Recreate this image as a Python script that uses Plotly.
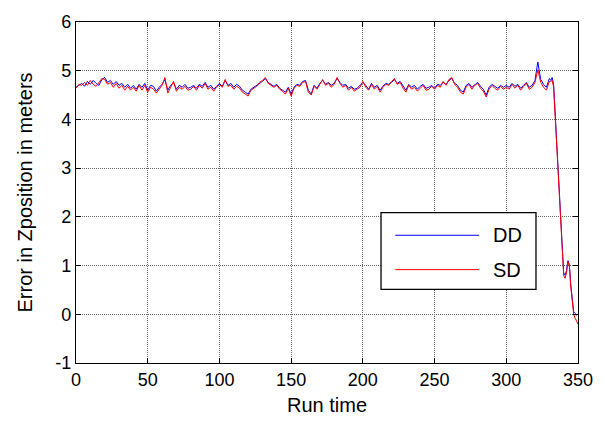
import numpy as np
import plotly.graph_objects as go

# Run time samples: every 2 units up to 330, then finer through the final drop
t_main = list(range(0, 331, 2))
t_tail = [331, 332, 333, 335, 337, 339, 340, 341, 342, 343, 344, 345, 346, 347, 348, 349, 350]
run_time = t_main + t_tail

dd_main = [
    4.66, 4.70, 4.74, 4.68, 4.78, 4.72, 4.80, 4.74, 4.70, 4.82,
    4.86, 4.76, 4.80, 4.72, 4.78, 4.70, 4.74, 4.66, 4.72, 4.64,
    4.70, 4.62, 4.72, 4.66, 4.74, 4.60, 4.70, 4.68, 4.58, 4.66,
    4.72, 4.82, 4.60, 4.70, 4.76, 4.62, 4.70, 4.66, 4.72, 4.64,
    4.66, 4.70, 4.64, 4.72, 4.68, 4.76, 4.66, 4.70, 4.62, 4.68,
    4.74, 4.68, 4.80, 4.70, 4.74, 4.66, 4.72, 4.68, 4.60, 4.56,
    4.52, 4.62, 4.66, 4.70, 4.74, 4.78, 4.84, 4.76, 4.72, 4.68,
    4.72, 4.64, 4.60, 4.56, 4.66, 4.52, 4.66, 4.72, 4.70, 4.78,
    4.80, 4.60, 4.52, 4.70, 4.64, 4.74, 4.80, 4.72, 4.76, 4.70,
    4.74, 4.84, 4.76, 4.70, 4.72, 4.64, 4.68, 4.62, 4.64, 4.70,
    4.76, 4.70, 4.62, 4.74, 4.66, 4.70, 4.60, 4.68, 4.74, 4.72,
    4.76, 4.82, 4.74, 4.78, 4.68, 4.60, 4.72, 4.66, 4.70, 4.62,
    4.68, 4.72, 4.64, 4.66, 4.70, 4.64, 4.72, 4.70, 4.76, 4.72,
    4.80, 4.84, 4.74, 4.70, 4.60, 4.56, 4.70, 4.74, 4.66, 4.72,
    4.76, 4.68, 4.62, 4.50, 4.66, 4.72, 4.68, 4.64, 4.70, 4.66,
    4.70, 4.66, 4.74, 4.68, 4.72, 4.64, 4.70, 4.76, 4.66, 4.70,
    4.80, 5.18, 4.82, 4.72, 4.66, 4.84,
]
dd_tail = [4.80, 4.86, 4.72, 3.60, 2.40, 1.20, 0.85, 0.80, 0.90, 1.10,
           1.02, 0.60, 0.25, 0.05, 0.02, -0.02, 0.00]

sd_main = [
    4.64, 4.72, 4.70, 4.76, 4.70, 4.80, 4.72, 4.68, 4.76, 4.84,
    4.82, 4.72, 4.76, 4.66, 4.74, 4.64, 4.70, 4.60, 4.68, 4.60,
    4.66, 4.58, 4.70, 4.60, 4.70, 4.56, 4.66, 4.62, 4.54, 4.62,
    4.70, 4.86, 4.54, 4.66, 4.78, 4.58, 4.66, 4.62, 4.68, 4.60,
    4.62, 4.68, 4.60, 4.70, 4.64, 4.74, 4.62, 4.66, 4.58, 4.66,
    4.72, 4.66, 4.82, 4.68, 4.70, 4.62, 4.68, 4.64, 4.56, 4.52,
    4.48, 4.60, 4.64, 4.68, 4.76, 4.80, 4.86, 4.74, 4.70, 4.66,
    4.70, 4.62, 4.58, 4.52, 4.64, 4.48, 4.64, 4.70, 4.68, 4.76,
    4.78, 4.56, 4.50, 4.68, 4.62, 4.72, 4.82, 4.70, 4.74, 4.66,
    4.72, 4.86, 4.74, 4.66, 4.70, 4.60, 4.66, 4.58, 4.62, 4.66,
    4.78, 4.66, 4.60, 4.72, 4.62, 4.68, 4.56, 4.66, 4.72, 4.70,
    4.78, 4.84, 4.72, 4.76, 4.64, 4.56, 4.70, 4.62, 4.66, 4.58,
    4.64, 4.70, 4.60, 4.62, 4.68, 4.62, 4.70, 4.66, 4.78, 4.70,
    4.82, 4.86, 4.72, 4.66, 4.56, 4.52, 4.66, 4.72, 4.62, 4.70,
    4.74, 4.64, 4.58, 4.46, 4.62, 4.70, 4.64, 4.60, 4.68, 4.62,
    4.66, 4.62, 4.72, 4.64, 4.70, 4.60, 4.68, 4.74, 4.62, 4.66,
    4.76, 5.02, 4.76, 4.66, 4.60, 4.78,
]
sd_tail = [4.78, 4.80, 4.66, 3.55, 2.35, 1.15, 0.80, 0.74, 0.85, 1.08,
           0.98, 0.55, 0.20, 0.00, -0.08, -0.15, -0.20]

dd = dd_main + dd_tail
sd = sd_main + sd_tail

x_ticks = [0, 50, 100, 150, 200, 250, 300, 350]
y_ticks = [-1, 0, 1, 2, 3, 4, 5, 6]
y_tick_text = ["-1", "0", "1", "2", "3", "4", "5", "6"]

FONT = "Liberation Sans, Arial, sans-serif"
TICK_SIZE = 18
TITLE_SIZE = 20

fig = go.Figure()
fig.add_trace(go.Scatter(x=run_time, y=dd, mode="lines", name="DD",
                         line=dict(color="#0000ff", width=1)))
fig.add_trace(go.Scatter(x=run_time, y=sd, mode="lines", name="SD",
                         line=dict(color="#ff0000", width=1)))

axis_common = dict(
    showline=True, linecolor="black", linewidth=1.3, mirror="ticks",
    ticks="inside", ticklen=5, tickcolor="black",
    showgrid=True, gridcolor="#666666", griddash="1px,1px", gridwidth=1,
    zeroline=False, tickfont=dict(family=FONT, size=TICK_SIZE, color="black"),
)

fig.update_xaxes(range=[0, 350], tickvals=x_ticks,
                 title=dict(text="Run time", font=dict(family=FONT, size=TITLE_SIZE, color="black"), standoff=9),
                 **axis_common)
fig.update_yaxes(range=[-1, 6], tickvals=y_ticks, ticktext=y_tick_text,
                 title=dict(text="Error in Zposition in meters", font=dict(family=FONT, size=TITLE_SIZE, color="black"), standoff=17),
                 **axis_common)

# Boxed legend in the lower right of the axes
lx0, lx1, ly0, ly1 = 0.6076, 0.9163, 0.2161, 0.4409
shapes = [
    dict(type="rect", xref="paper", yref="paper", x0=lx0, x1=lx1, y0=ly0, y1=ly1,
         line=dict(color="black", width=1.3), fillcolor="white", layer="above"),
    dict(type="line", xref="paper", yref="paper", x0=0.636, x1=0.803, y0=0.3746, y1=0.3746,
         line=dict(color="#0000ff", width=1), layer="above"),
    dict(type="line", xref="paper", yref="paper", x0=0.636, x1=0.803, y0=0.2738, y1=0.2738,
         line=dict(color="#ff0000", width=1), layer="above"),
]
annotations = [
    dict(xref="paper", yref="paper", x=0.826, y=0.3746, text="DD", showarrow=False,
         xanchor="left", yanchor="middle", font=dict(family=FONT, size=20, color="black")),
    dict(xref="paper", yref="paper", x=0.826, y=0.2738, text="SD", showarrow=False,
         xanchor="left", yanchor="middle", font=dict(family=FONT, size=20, color="black")),
]

fig.update_layout(
    width=605, height=425,
    margin=dict(l=76, r=27, t=16, b=62),
    paper_bgcolor="white", plot_bgcolor="white",
    showlegend=False,
    shapes=shapes, annotations=annotations,
)

fig.write_html("out.html")
